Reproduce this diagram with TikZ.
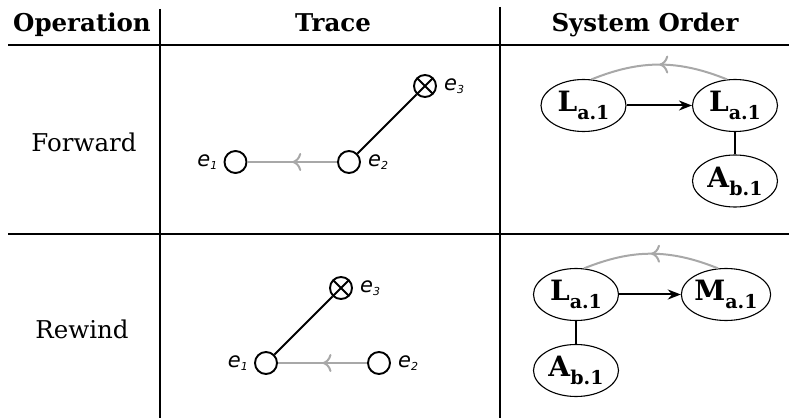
\documentclass[tikz,border=0pt]{standalone}
\usepackage{fontspec}
\setmainfont{DejaVu Serif}
\newfontfamily\tracefont{DejaVu Sans}
\usetikzlibrary{positioning,shapes.geometric,arrows.meta,decorations.markings}
\definecolor{revgray}{RGB}{168,168,168}
\newcommand{\ordlab}[2]{\textbf{#1}\raisebox{-8pt}{\fontsize{19}{19}\selectfont\textbf{#2}}}
\newcommand{\evlab}[1]{{\tracefont\itshape e\raisebox{-3.5pt}{\fontsize{11}{11}\selectfont #1}}}

\begin{document}
\begin{tikzpicture}[x=1pt,y=1pt,>={Stealth[length=13pt,width=10pt]},
	event/.style={circle,draw,line width=1.9pt,minimum size=22pt,inner sep=0pt},
	target/.style={event,path picture={\draw[line width=1.9pt] (path picture bounding box.south west) -- (path picture bounding box.north east) (path picture bounding box.north west) -- (path picture bounding box.south east);}},
	evtext/.style={font=\fontsize{21}{21}\selectfont,inner sep=0pt},
	ord/.style={ellipse,draw,line width=1.1pt,minimum width=85pt,minimum height=52pt,inner sep=0pt,font=\fontsize{28}{28}\selectfont},
	rule/.style={line width=2.2pt},
	head/.style={font=\fontsize{24.5}{24.5}\selectfont\bfseries,anchor=base},
	oper/.style={font=\fontsize{24.5}{24.5}\selectfont,anchor=base},
	link/.style={line width=2pt},
	back/.style={revgray,line width=2pt,postaction={decorate},
		decoration={markings,mark=at position 0.5 with {\arrow{To[length=9pt,width=18pt]}}}}]
	\useasboundingbox (0,0) rectangle (790,418);
	% table
	\draw[rule] (8,373) -- (789,373);
	\draw[rule] (8,184) -- (789,184);
	\draw[rule] (160,409) -- (160,0);
	\draw[rule] (500,411) -- (500,0);
	\node[head] (hop) at (82,386) {Operation};
	\node[head] (htr) at (333,386) {Trace};
	\node[head] (hso) at (645,386) {System Order};
	\node[oper] (fwd) at (84,266) {Forward};
	\node[oper] (rwd) at (82,80) {Rewind};
	% forward
	\node[event] (f1) at (235.5,256) {};
	\node[event] (f2) at (349,256) {};
	\node[target] (f3) at (425,332) {};
	\node[evtext,left=6pt of f1] (f1l) {\evlab{1}};
	\node[evtext,right=7pt of f2] (f2l) {\evlab{2}};
	\node[evtext,right=7pt of f3] (f3l) {\evlab{3}};
	\draw[back] (f2) -- (f1);
	\draw[link] (f2) -- (f3);
	\node[ord] (fl) at (583.5,312.5) {\ordlab{L}{a.1}};
	\node[ord] (fr) at (735,312.5) {\ordlab{L}{a.1}};
	\node[ord] (fa) at (735,237) {\ordlab{A}{b.1}};
	\draw[link,->] (fl) -- (fr);
	\draw[link] (fr) -- (fa);
	\draw[back] (fr.107) to[bend right=22] (fl.73);
	% rewind
	\node[event] (r1) at (266,55) {};
	\node[event] (r2) at (379,55) {};
	\node[target] (r3) at (341,130) {};
	\node[evtext,left=6pt of r1] (r1l) {\evlab{1}};
	\node[evtext,right=7pt of r2] (r2l) {\evlab{2}};
	\node[evtext,right=7pt of r3] (r3l) {\evlab{3}};
	\draw[back] (r2) -- (r1);
	\draw[link] (r1) -- (r3);
	\node[ord] (rl) at (576,123.5) {\ordlab{L}{a.1}};
	\node[ord] (rm) at (726,123.5) {\ordlab{M}{a.1}};
	\node[ord] (ra) at (576,47.5) {\ordlab{A}{b.1}};
	\draw[link,->] (rl) -- (rm);
	\draw[link] (rl) -- (ra);
	\draw[back] (rm.107) to[bend right=22] (rl.73);
\end{tikzpicture}
\end{document}
